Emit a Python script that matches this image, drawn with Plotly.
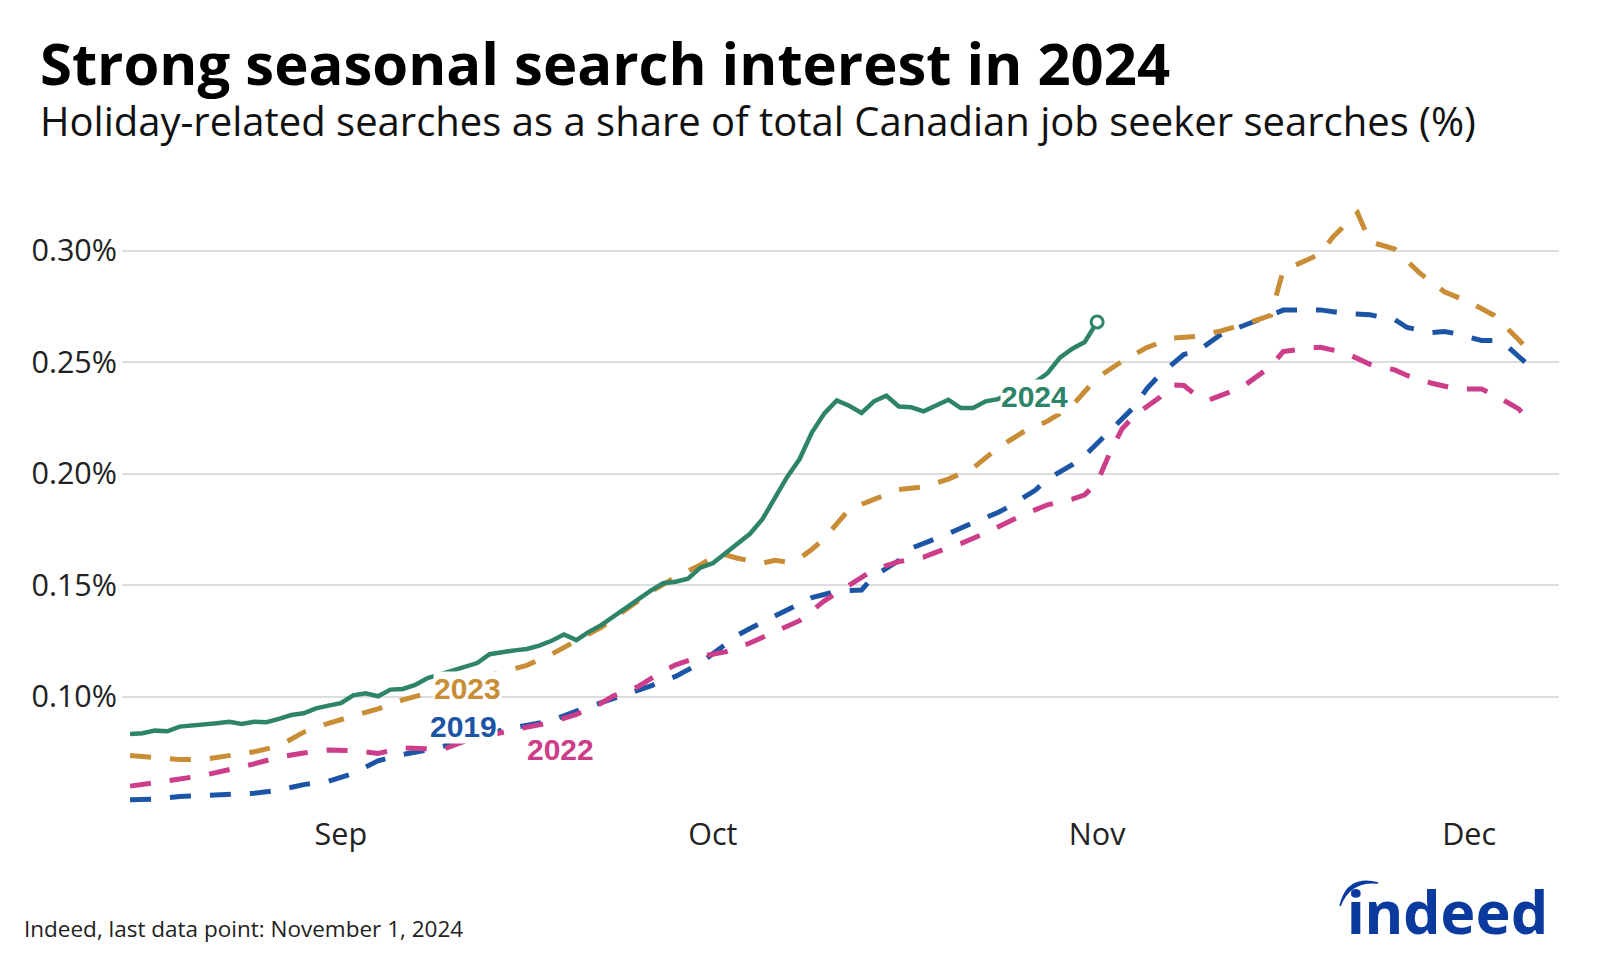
import plotly.graph_objects as go
import pandas as pd

# ---------------- data (values in %) ----------------
dates_2024 = pd.date_range("2024-08-15", "2024-11-01", freq="D")
vals_2024 = [
    0.0832, 0.0835, 0.0847, 0.0844, 0.0865, 0.0870, 0.0870, 0.0880, 0.0887, 0.0877,
    0.0887, 0.0885, 0.0900, 0.0917, 0.0925, 0.0947, 0.0959,              # Aug 15-31
    0.0970, 0.1005, 0.1014, 0.1001, 0.1031, 0.1034, 0.1052, 0.1083, 0.1100, 0.1118,
    0.1138, 0.1150, 0.1190, 0.1200, 0.1207, 0.1213, 0.1228, 0.1250, 0.1278, 0.1253,
    0.1290, 0.1320, 0.1360, 0.1400, 0.1440, 0.1475, 0.1508, 0.1515, 0.1528, 0.1578,  # Sep
    0.1598, 0.1640, 0.1685, 0.1730, 0.1795, 0.1895, 0.1985, 0.2065, 0.2185, 0.2270,
    0.2328, 0.2304, 0.2272, 0.2324, 0.2349, 0.2301, 0.2297, 0.2279, 0.2305, 0.2331,
    0.2294, 0.2294, 0.2324, 0.2334, 0.2360, 0.2385, 0.2410, 0.2450, 0.2520, 0.2560,
    0.2590,                                                                          # Oct
    0.2680,                                                                          # Nov 1
]

dates_2023 = [
    "08-15", "08-17", "08-19", "08-21", "08-23", "08-25", "08-27", "08-29", "08-31",
    "09-02", "09-04", "09-06", "09-08", "09-10", "09-12", "09-14", "09-16", "09-18",
    "09-20", "09-22", "09-24", "09-26", "09-28", "09-30", "10-01", "10-02", "10-03",
    "10-05", "10-06", "10-07", "10-08", "10-09", "10-10", "10-11", "10-12", "10-14",
    "10-16", "10-18", "10-20", "10-22", "10-24", "10-26", "10-28", "10-30", "11-01",
    "11-03", "11-05", "11-07", "11-09", "11-11", "11-13", "11-15", "11-16", "11-18",
    "11-19", "11-20", "11-22", "11-23", "11-25", "11-27", "11-29", "12-01", "12-03",
    "12-05", "12-06",
]
vals_2023 = [
    0.0735, 0.0725, 0.0717, 0.0718, 0.0733, 0.0752, 0.0778, 0.0840, 0.0880,
    0.0912, 0.0945, 0.0985, 0.1015, 0.1040, 0.1075, 0.1110, 0.1140, 0.1190,
    0.1250, 0.1310, 0.1390, 0.1470, 0.1535, 0.1590, 0.1625, 0.1635, 0.1620,
    0.1598, 0.1611, 0.1603, 0.1620, 0.1660, 0.1710, 0.1772, 0.1840, 0.1884,
    0.1928, 0.1940, 0.1975, 0.2025, 0.2115, 0.2185, 0.2235, 0.2305, 0.2430,
    0.2503, 0.2565, 0.2607, 0.2615, 0.2640, 0.2672, 0.2710, 0.2910, 0.2960,
    0.2985, 0.3060, 0.3169, 0.3040, 0.3007, 0.2900, 0.2815, 0.2770, 0.2710,
    0.2600, 0.2540,
]

dates_2019 = [
    "08-15", "08-17", "08-19", "08-21", "08-23", "08-25", "08-27", "08-29", "08-31",
    "09-02", "09-04", "09-06", "09-08", "09-10", "09-12", "09-14", "09-16", "09-18",
    "09-20", "09-22", "09-24", "09-26", "09-28", "09-30", "10-01", "10-03", "10-04",
    "10-06", "10-08", "10-09", "10-11", "10-13", "10-14", "10-16", "10-17", "10-19",
    "10-20", "10-22", "10-24", "10-25", "10-27", "10-28", "10-30", "10-31", "11-02",
    "11-04", "11-05", "11-06", "11-08", "11-09", "11-11", "11-13", "11-15", "11-16",
    "11-18", "11-19", "11-21", "11-23", "11-25", "11-26", "11-28", "11-29", "11-30",
    "12-02", "12-03", "12-04", "12-05", "12-06",
]
vals_2019 = [
    0.0537, 0.0540, 0.0552, 0.0556, 0.0557, 0.0566, 0.0580, 0.0605, 0.0620,
    0.0655, 0.0712, 0.0740, 0.0760, 0.0785, 0.0815, 0.0850, 0.0872, 0.0892,
    0.0935, 0.0975, 0.1010, 0.1048, 0.1090, 0.1150, 0.1190, 0.1275, 0.1305,
    0.1362, 0.1415, 0.1444, 0.1472, 0.1478, 0.1540, 0.1610, 0.1665, 0.1705,
    0.1730, 0.1780, 0.1825, 0.1855, 0.1925, 0.1975, 0.2040, 0.2080, 0.2190,
    0.2300, 0.2380, 0.2440, 0.2535, 0.2545, 0.2625, 0.2665, 0.2710, 0.2733,
    0.2731, 0.2734, 0.2718, 0.2712, 0.2690, 0.2655, 0.2632, 0.2637, 0.2627,
    0.2597, 0.2597, 0.2575, 0.2525, 0.2476,
]

dates_2022 = [
    "08-15", "08-17", "08-19", "08-21", "08-23", "08-25", "08-27", "08-29", "08-31",
    "09-02", "09-04", "09-06", "09-08", "09-09", "09-11", "09-13", "09-15", "09-17",
    "09-18", "09-20", "09-22", "09-23", "09-25", "09-27", "09-28", "09-30", "10-02",
    "10-04", "10-05", "10-07", "10-08", "10-10", "10-11", "10-13", "10-14", "10-16",
    "10-18", "10-20", "10-21", "10-23", "10-25", "10-26", "10-28", "10-30", "10-31",
    "11-01", "11-02", "11-03", "11-04", "11-06", "11-07", "11-08", "11-09", "11-10",
    "11-12", "11-13", "11-15", "11-16", "11-18", "11-19", "11-21", "11-23", "11-25",
    "11-26", "11-28", "11-30", "12-02", "12-03", "12-05", "12-06",
]
vals_2022 = [
    0.0598, 0.0612, 0.0630, 0.0647, 0.0670, 0.0698, 0.0728, 0.0747, 0.0760,
    0.0758, 0.0745, 0.0770, 0.0766, 0.0758, 0.0800, 0.0828, 0.0852, 0.0873,
    0.0884, 0.0920, 0.0970, 0.1003, 0.1045, 0.1115, 0.1142, 0.1180, 0.1200,
    0.1240, 0.1265, 0.1310, 0.1340, 0.1429, 0.1465, 0.1535, 0.1570, 0.1605,
    0.1625, 0.1668, 0.1686, 0.1733, 0.1785, 0.1815, 0.1860, 0.1885, 0.1905,
    0.1960, 0.2090, 0.2200, 0.2260, 0.2340, 0.2398, 0.2395, 0.2350, 0.2330,
    0.2372, 0.2400, 0.2480, 0.2547, 0.2563, 0.2566, 0.2542, 0.2490, 0.2465,
    0.2440, 0.2405, 0.2379, 0.2379, 0.2354, 0.2290, 0.2230,
]

month_ticks = ["2024-09-01", "2024-10-01", "2024-11-01", "2024-12-01"]
month_labels = ["Sep", "Oct", "Nov", "Dec"]
y_ticks = [0.10, 0.15, 0.20, 0.25, 0.30]
y_tick_labels = ["%.2f%%" % v for v in y_ticks]

# label anchor points (date, value) for direct labels
labels = [
    ("2023", "2024-09-11 06:00", 0.1034),
    ("2019", "2024-09-10 22:00", 0.0866),
    ("2022", "2024-09-18 17:00", 0.0761),
    ("2024", "2024-10-26 22:00", 0.2346),
]

# ---------------- style ----------------
C2024 = "#2d8469"
C2023 = "#c88d35"
C2019 = "#1d55a6"
C2022 = "#cc3d8a"
colors = {"2024": C2024, "2023": C2023, "2019": C2019, "2022": C2022}
LOGO = "#0a3a9e"
FONT = "Open Sans"

OFF = 8                      # page body margin offset
W, H = 1600 - OFF, 960 - OFF
L, R, T, B = 114, 41, 198, 152
PW, PH = W - L - R, H - T - B


def px(x):                   # page pixel -> paper x
    return (x - OFF - L) / PW


def py(y):                   # page pixel -> paper y
    return (H - B - (y - OFF)) / PH


def full(md):
    return "2024-" + md


fig = go.Figure()
dash = "21px,19px"
fig.add_trace(go.Scatter(x=[full(d) for d in dates_2019], y=vals_2019, mode="lines",
                         line=dict(color=C2019, width=5, dash=dash), hoverinfo="skip"))
fig.add_trace(go.Scatter(x=[full(d) for d in dates_2022], y=vals_2022, mode="lines",
                         line=dict(color=C2022, width=5, dash=dash), hoverinfo="skip"))
fig.add_trace(go.Scatter(x=[full(d) for d in dates_2023], y=vals_2023, mode="lines",
                         line=dict(color=C2023, width=5, dash=dash), hoverinfo="skip"))
fig.add_trace(go.Scatter(x=dates_2024, y=vals_2024, mode="lines",
                         line=dict(color=C2024, width=4.5), hoverinfo="skip"))
fig.add_trace(go.Scatter(x=[dates_2024[-1]], y=[vals_2024[-1]], mode="markers",
                         marker=dict(size=12, color="white", line=dict(color=C2024, width=3)),
                         hoverinfo="skip"))

for name, xd, yv in labels:
    fig.add_annotation(x=xd, y=yv, xref="x", yref="y", text="<b>%s</b>" % name,
                       showarrow=False, xanchor="center", yanchor="middle",
                       font=dict(family="Liberation Sans, Arial", size=30, color=colors[name]),
                       bgcolor="white", borderpad=0)

# title / subtitle / source
fig.add_annotation(x=px(38), y=py(62), xref="paper", yref="paper", xanchor="left", yanchor="middle",
                   text="<b>Strong seasonal search interest in 2024</b>", showarrow=False,
                   font=dict(family=FONT, size=58, color="#000000"))
fig.add_annotation(x=px(38), y=py(120), xref="paper", yref="paper", xanchor="left", yanchor="middle",
                   text="Holiday-related searches as a share of total Canadian job seeker searches (%)",
                   showarrow=False, font=dict(family=FONT, size=40, color="#111111"))
fig.add_annotation(x=px(22), y=py(928), xref="paper", yref="paper", xanchor="left", yanchor="middle",
                   text="Indeed, last data point: November 1, 2024", showarrow=False,
                   font=dict(family=FONT, size=22.5, color="#222222"))
# logo wordmark
fig.add_annotation(x=px(1447), y=py(911), xref="paper", yref="paper", xanchor="center", yanchor="middle",
                   text="<b>indeed</b>", showarrow=False,
                   font=dict(family="Noto Sans", size=59, color=LOGO))
# logo swoosh
p = lambda x, y: "%.5f,%.5f" % (px(x), py(y))
path = ("M " + p(1340, 906) + " Q " + p(1347, 875) + " " + p(1378, 883) +
        " Q " + p(1350, 880) + " " + p(1340, 906) + " Z")
fig.add_shape(type="path", path=path, xref="paper", yref="paper",
              fillcolor=LOGO, line=dict(color=LOGO, width=1.5), layer="above")

fig.update_layout(
    width=W, height=H,
    margin=dict(l=L, r=R, t=T, b=B),
    paper_bgcolor="white", plot_bgcolor="white",
    showlegend=False,
    font=dict(family=FONT, color="#222222"),
    xaxis=dict(type="date", range=["2024-08-14 08:24", "2024-12-08 06:00"],
               tickvals=month_ticks, ticktext=month_labels, showgrid=False,
               zeroline=False, showline=False, ticks="", ticklabelstandoff=5,
               tickfont=dict(family=FONT, size=30.5, color="#222222")),
    yaxis=dict(range=[0.05, 0.32], tickvals=y_ticks, ticktext=y_tick_labels,
               showgrid=True, gridcolor="#dddddd", gridwidth=1.5, zeroline=False,
               showline=False, ticks="", ticklabelstandoff=4,
               tickfont=dict(family=FONT, size=30.5, color="#222222")),
)

fig.write_html("out.html")
